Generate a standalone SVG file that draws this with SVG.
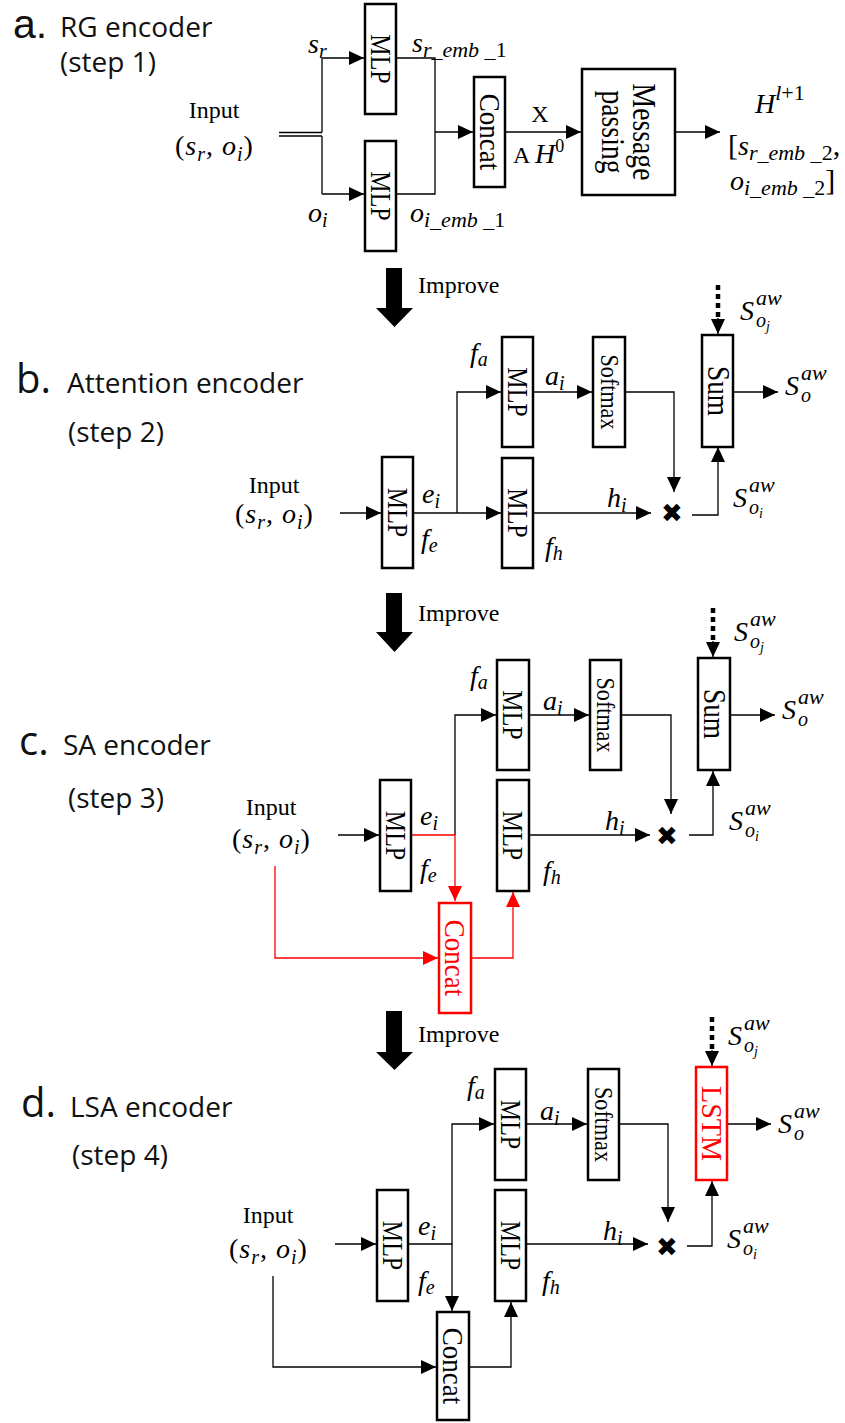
<svg xmlns="http://www.w3.org/2000/svg" width="845" height="1423" viewBox="0 0 845 1423">
<style>
.v{font-family:"Liberation Serif",serif;font-style:italic;font-size:28px;fill:#000}
.u{font-style:normal}
.sb{font-size:20px}
.lbl{font-family:"Liberation Serif",serif;font-size:24px;fill:#000}
.ttl{font-family:"Open Sans",sans-serif;font-size:28px;fill:#111}
.big{font-family:"Open Sans",sans-serif;font-size:40px;fill:#111}
.box{fill:#fff;stroke:#000;stroke-width:2.5}
.rbox{fill:#fff;stroke:#f00;stroke-width:2.5}
.ln{fill:none;stroke:#000;stroke-width:1.3}
.rln{fill:none;stroke:#f00;stroke-width:1.3}
.dot{fill:none;stroke:#000;stroke-width:4.5;stroke-dasharray:5 4}
.bt{font-family:"Liberation Serif",serif;text-anchor:middle;fill:#000}
.rt{fill:#f00}
.mul{font-family:"DejaVu Sans",sans-serif;font-size:26px;text-anchor:middle;fill:#000}
</style>
<defs>
<marker id="ah" markerUnits="userSpaceOnUse" markerWidth="15" markerHeight="14" refX="15" refY="7" orient="auto"><path d="M0,0L15,7L0,14z" fill="#000"/></marker>
<marker id="ahr" markerUnits="userSpaceOnUse" markerWidth="15" markerHeight="14" refX="15" refY="7" orient="auto"><path d="M0,0L15,7L0,14z" fill="#f00"/></marker>
</defs>
<rect width="845" height="1423" fill="#fff"/>

<!-- titles -->
<g id="titles">
<text x="13" y="38" font-family="Liberation Sans, sans-serif" font-size="41" fill="#111">a.</text>
<text class="ttl" x="60" y="37">RG encoder</text>
<text class="ttl" x="60" y="72">(step 1)</text>
<text class="big" x="16" y="393">b.</text>
<text class="ttl" x="67" y="393">Attention encoder</text>
<text class="ttl" x="68" y="442">(step 2)</text>
<text class="big" x="19" y="755">c.</text>
<text class="ttl" x="63" y="755">SA encoder</text>
<text class="ttl" x="68" y="808">(step 3)</text>
<text class="big" x="21" y="1117">d.</text>
<text class="ttl" x="70" y="1117" font-size="29">LSA encoder</text>
<text class="ttl" x="72" y="1165">(step 4)</text>
</g>

<!-- improve arrows -->
<g id="improve">
<polygon points="386,268 402,268 402,308 413,308 394.5,327 376,308 386,308" fill="#000"/>
<text class="lbl" x="418" y="293">Improve</text>
<polygon points="386,593 402,593 402,632 413,632 394.5,652 376,632 386,632" fill="#000"/>
<text class="lbl" x="418" y="621">Improve</text>
<polygon points="386,1011 402,1011 402,1052 413,1052 394.5,1070 376,1052 386,1052" fill="#000"/>
<text class="lbl" x="418" y="1042">Improve</text>
</g>

<!-- connectors -->
<g id="connectors">
<!-- a -->
<path class="ln" d="M279,132.5H322M279,136H322"/>
<path class="ln" d="M322,132.5V58"/>
<path class="ln" d="M322,136V194"/>
<path class="ln" d="M322,58H364" marker-end="url(#ah)"/>
<path class="ln" d="M322,194H364" marker-end="url(#ah)"/>
<path class="ln" d="M396,58H435V194H396"/>
<path class="ln" d="M435,132H473" marker-end="url(#ah)"/>
<path class="ln" d="M505,132H581" marker-end="url(#ah)"/>
<path class="ln" d="M675,132H720" marker-end="url(#ah)"/>
<!-- b -->
<path class="ln" d="M340,513H381" marker-end="url(#ah)"/>
<path class="ln" d="M413,513H501" marker-end="url(#ah)"/>
<path class="ln" d="M457,513V392H501" marker-end="url(#ah)"/>
<path class="ln" d="M533,392H592" marker-end="url(#ah)"/>
<path class="ln" d="M625,392H674V492" marker-end="url(#ah)"/>
<path class="ln" d="M533,513H651" marker-end="url(#ah)"/>
<path class="ln" d="M692,515H718V447" marker-end="url(#ah)"/>
<path class="dot" d="M718,285V318"/>
<path class="ln" d="M718,318V334" marker-end="url(#ah)"/>
<path class="ln" d="M733,392H778" marker-end="url(#ah)"/>
<!-- c -->
<path class="ln" d="M338,835H379" marker-end="url(#ah)"/>
<path class="ln" d="M455,835V715H496" marker-end="url(#ah)"/>
<path class="rln" d="M411,835H455V901" marker-end="url(#ahr)"/>
<path class="rln" d="M275,866V958H438" marker-end="url(#ahr)"/>
<path class="rln" d="M471,958H513V892" marker-end="url(#ahr)"/>
<path class="ln" d="M529,715H589" marker-end="url(#ah)"/>
<path class="ln" d="M621,715H671V814" marker-end="url(#ah)"/>
<path class="ln" d="M529,835H650" marker-end="url(#ah)"/>
<path class="ln" d="M689,835H713V771" marker-end="url(#ah)"/>
<path class="dot" d="M713,608V641"/>
<path class="ln" d="M713,641V657" marker-end="url(#ah)"/>
<path class="ln" d="M730,715H775" marker-end="url(#ah)"/>
<!-- d -->
<path class="ln" d="M335,1244H376" marker-end="url(#ah)"/>
<path class="ln" d="M408,1244H452V1311" marker-end="url(#ah)"/>
<path class="ln" d="M452,1244V1124H494" marker-end="url(#ah)"/>
<path class="ln" d="M273,1276V1367H436" marker-end="url(#ah)"/>
<path class="ln" d="M469,1367H511V1302" marker-end="url(#ah)"/>
<path class="ln" d="M526,1124H587" marker-end="url(#ah)"/>
<path class="ln" d="M619,1124H668V1222" marker-end="url(#ah)"/>
<path class="ln" d="M526,1244H648" marker-end="url(#ah)"/>
<path class="ln" d="M687,1246H712V1181" marker-end="url(#ah)"/>
<path class="dot" d="M712,1017V1050"/>
<path class="ln" d="M712,1050V1066" marker-end="url(#ah)"/>
<path class="ln" d="M727,1124H771" marker-end="url(#ah)"/>
</g>

<!-- ===== section a ===== -->
<g id="a-input">
<text class="lbl" x="214" y="118" text-anchor="middle">Input</text>
<text class="v" x="175" y="155" letter-spacing="1"><tspan class="u">(</tspan>s<tspan class="sb" dy="6">r</tspan><tspan class="u" dy="-6">, </tspan>o<tspan class="sb" dy="6">i</tspan><tspan class="u" dy="-6">)</tspan></text>
</g>
<g id="a-labels">
<text class="v" x="308" y="53">s<tspan class="sb" dy="5">r</tspan></text>
<text class="v" x="308" y="222">o<tspan class="sb" dy="5">i</tspan></text>
<text class="v" x="412" y="52">s<tspan font-size="22" dy="5">r_emb _<tspan class="u">1</tspan></tspan></text>
<text class="v" x="410" y="222">o<tspan font-size="22" dy="5">i_emb _<tspan class="u">1</tspan></tspan></text>
<text class="lbl" x="540" y="122" text-anchor="middle">X</text>
<text class="lbl" x="513" y="163">A <tspan class="v" font-size="26">H</tspan><tspan font-size="18" dy="-11">0</tspan></text>
</g>
<g id="a-mlp1"><rect class="box" x="365" y="4" width="31" height="110"/><text class="bt" font-size="30" transform="translate(370.5,59) rotate(90) scale(0.8,1)">MLP</text></g>
<g id="a-mlp2"><rect class="box" x="365" y="141" width="31" height="110"/><text class="bt" font-size="30" transform="translate(370.5,196) rotate(90) scale(0.8,1)">MLP</text></g>
<g id="a-concat"><rect class="box" x="474" y="77" width="31" height="110"/><text class="bt" font-size="30" transform="translate(480,132) rotate(90) scale(0.9,1)">Concat</text></g>
<g id="a-mp"><rect class="box" x="582" y="69" width="93" height="126"/>
<text class="bt" font-size="33" transform="translate(633,132) rotate(90) scale(0.84,1)">Message</text>
<text class="bt" font-size="33" transform="translate(602,132) rotate(90) scale(0.84,1)">passing</text></g>
<g id="a-output">
<text class="v" x="755" y="113" font-size="30">H<tspan font-size="22" dy="-13">l<tspan class="u">+1</tspan></tspan></text>
<text class="v" x="728" y="155"><tspan class="u" font-size="30">[</tspan>s<tspan font-size="22" dy="5">r_emb _<tspan class="u">2</tspan></tspan><tspan class="u" dy="-5" font-size="30">,</tspan></text>
<text class="v" x="730" y="190">o<tspan font-size="22" dy="5">i_emb _<tspan class="u">2</tspan></tspan><tspan class="u" dy="-5" font-size="30">]</tspan></text>
</g>

<!-- ===== section b ===== -->
<g id="b-input">
<text class="lbl" x="274" y="493" text-anchor="middle">Input</text>
<text class="v" x="235" y="523" letter-spacing="1"><tspan class="u">(</tspan>s<tspan class="sb" dy="6">r</tspan><tspan class="u" dy="-6">, </tspan>o<tspan class="sb" dy="6">i</tspan><tspan class="u" dy="-6">)</tspan></text>
</g>
<g id="b-mlpe"><rect class="box" x="382" y="457" width="31" height="111"/><text class="bt" font-size="30" transform="translate(387.5,512.5) rotate(90) scale(0.8,1)">MLP</text></g>
<g id="b-mlpa"><rect class="box" x="502" y="337" width="31" height="110"/><text class="bt" font-size="30" transform="translate(507.5,392) rotate(90) scale(0.8,1)">MLP</text></g>
<g id="b-mlph"><rect class="box" x="502" y="458" width="31" height="110"/><text class="bt" font-size="30" transform="translate(507.5,513) rotate(90) scale(0.8,1)">MLP</text></g>
<g id="b-softmax"><rect class="box" x="593" y="337" width="32" height="110"/><text class="bt" font-size="26" transform="translate(600.5,392) rotate(90) scale(0.85,1)">Softmax</text></g>
<g id="b-mul"><text class="mul" x="672" y="522">✖</text></g>
<g id="b-sum"><rect class="box" x="702" y="335" width="31" height="112"/><text class="bt" font-size="31" transform="translate(707.5,391) rotate(90) scale(0.88,1)">Sum</text></g>
<g id="b-labels">
<text class="v" x="470" y="362">f<tspan class="sb" dy="4">a</tspan></text>
<text class="v" x="422" y="503">e<tspan class="sb" dy="5">i</tspan></text>
<text class="v" x="421" y="548">f<tspan class="sb" dy="4">e</tspan></text>
<text class="v" x="545" y="385">a<tspan class="sb" dy="5">i</tspan></text>
<text class="v" x="607" y="507">h<tspan class="sb" dy="5">i</tspan></text>
<text class="v" x="545" y="556">f<tspan class="sb" dy="4">h</tspan></text>
<text class="v" font-size="27"><tspan x="740" y="320">S</tspan><tspan x="756" y="305" font-size="22">aw</tspan><tspan x="756" y="327" font-size="20">o</tspan><tspan font-size="14" dy="4">j</tspan></text>
<text class="v" font-size="27"><tspan x="785" y="395">S</tspan><tspan x="801" y="380" font-size="22">aw</tspan><tspan x="801" y="402" font-size="20">o</tspan></text>
<text class="v" font-size="27"><tspan x="733" y="507">S</tspan><tspan x="749" y="492" font-size="22">aw</tspan><tspan x="749" y="514" font-size="20">o</tspan><tspan font-size="14" dy="4">i</tspan></text>
</g>

<!-- ===== section c ===== -->
<g id="c-input">
<text class="lbl" x="271" y="815" text-anchor="middle">Input</text>
<text class="v" x="232" y="848" letter-spacing="1"><tspan class="u">(</tspan>s<tspan class="sb" dy="6">r</tspan><tspan class="u" dy="-6">, </tspan>o<tspan class="sb" dy="6">i</tspan><tspan class="u" dy="-6">)</tspan></text>
</g>
<g id="c-mlpe"><rect class="box" x="380" y="780" width="31" height="111"/><text class="bt" font-size="30" transform="translate(385.5,835.5) rotate(90) scale(0.8,1)">MLP</text></g>
<g id="c-mlpa"><rect class="box" x="497" y="660" width="32" height="110"/><text class="bt" font-size="30" transform="translate(503,715) rotate(90) scale(0.8,1)">MLP</text></g>
<g id="c-mlph"><rect class="box" x="497" y="780" width="32" height="111"/><text class="bt" font-size="30" transform="translate(503,835.5) rotate(90) scale(0.8,1)">MLP</text></g>
<g id="c-concat"><rect class="rbox" x="439" y="903" width="32" height="110"/><text class="bt rt" font-size="30" transform="translate(445,958) rotate(90) scale(0.9,1)">Concat</text></g>
<g id="c-softmax"><rect class="box" x="590" y="660" width="31" height="110"/><text class="bt" font-size="26" transform="translate(597,715) rotate(90) scale(0.85,1)">Softmax</text></g>
<g id="c-mul"><text class="mul" x="667" y="845">✖</text></g>
<g id="c-sum"><rect class="box" x="698" y="658" width="32" height="112"/><text class="bt" font-size="31" transform="translate(704,714) rotate(90) scale(0.88,1)">Sum</text></g>
<g id="c-labels">
<text class="v" x="470" y="685">f<tspan class="sb" dy="4">a</tspan></text>
<text class="v" x="420" y="825">e<tspan class="sb" dy="5">i</tspan></text>
<text class="v" x="420" y="878">f<tspan class="sb" dy="4">e</tspan></text>
<text class="v" x="543" y="710">a<tspan class="sb" dy="5">i</tspan></text>
<text class="v" x="605" y="830">h<tspan class="sb" dy="5">i</tspan></text>
<text class="v" x="543" y="880">f<tspan class="sb" dy="4">h</tspan></text>
<text class="v" font-size="27"><tspan x="734" y="641">S</tspan><tspan x="750" y="626" font-size="22">aw</tspan><tspan x="750" y="648" font-size="20">o</tspan><tspan font-size="14" dy="4">j</tspan></text>
<text class="v" font-size="27"><tspan x="782" y="719">S</tspan><tspan x="798" y="704" font-size="22">aw</tspan><tspan x="798" y="726" font-size="20">o</tspan></text>
<text class="v" font-size="27"><tspan x="729" y="830">S</tspan><tspan x="745" y="815" font-size="22">aw</tspan><tspan x="745" y="837" font-size="20">o</tspan><tspan font-size="14" dy="4">i</tspan></text>
</g>

<!-- ===== section d ===== -->
<g id="d-input">
<text class="lbl" x="268" y="1223" text-anchor="middle">Input</text>
<text class="v" x="229" y="1258" letter-spacing="1"><tspan class="u">(</tspan>s<tspan class="sb" dy="6">r</tspan><tspan class="u" dy="-6">, </tspan>o<tspan class="sb" dy="6">i</tspan><tspan class="u" dy="-6">)</tspan></text>
</g>
<g id="d-mlpe"><rect class="box" x="377" y="1190" width="31" height="111"/><text class="bt" font-size="30" transform="translate(382.5,1245.5) rotate(90) scale(0.8,1)">MLP</text></g>
<g id="d-mlpa"><rect class="box" x="495" y="1069" width="31" height="111"/><text class="bt" font-size="30" transform="translate(500.5,1124.5) rotate(90) scale(0.8,1)">MLP</text></g>
<g id="d-mlph"><rect class="box" x="495" y="1190" width="31" height="111"/><text class="bt" font-size="30" transform="translate(500.5,1245.5) rotate(90) scale(0.8,1)">MLP</text></g>
<g id="d-concat"><rect class="box" x="437" y="1312" width="32" height="108"/><text class="bt" font-size="30" transform="translate(443,1366) rotate(90) scale(0.9,1)">Concat</text></g>
<g id="d-softmax"><rect class="box" x="588" y="1069" width="31" height="111"/><text class="bt" font-size="26" transform="translate(595,1124.5) rotate(90) scale(0.85,1)">Softmax</text></g>
<g id="d-mul"><text class="mul" x="667" y="1256">✖</text></g>
<g id="d-lstm"><rect class="rbox" x="696" y="1067" width="31" height="113"/><text class="bt rt" font-size="30" transform="translate(701.5,1123.5) rotate(90) scale(0.94,1)">LSTM</text></g>
<g id="d-labels">
<text class="v" x="467" y="1095">f<tspan class="sb" dy="4">a</tspan></text>
<text class="v" x="418" y="1235">e<tspan class="sb" dy="5">i</tspan></text>
<text class="v" x="418" y="1290">f<tspan class="sb" dy="4">e</tspan></text>
<text class="v" x="540" y="1120">a<tspan class="sb" dy="5">i</tspan></text>
<text class="v" x="603" y="1240">h<tspan class="sb" dy="5">i</tspan></text>
<text class="v" x="542" y="1290">f<tspan class="sb" dy="4">h</tspan></text>
<text class="v" font-size="27"><tspan x="728" y="1045">S</tspan><tspan x="744" y="1030" font-size="22">aw</tspan><tspan x="744" y="1052" font-size="20">o</tspan><tspan font-size="14" dy="4">j</tspan></text>
<text class="v" font-size="27"><tspan x="778" y="1133">S</tspan><tspan x="794" y="1118" font-size="22">aw</tspan><tspan x="794" y="1140" font-size="20">o</tspan></text>
<text class="v" font-size="27"><tspan x="727" y="1248">S</tspan><tspan x="743" y="1233" font-size="22">aw</tspan><tspan x="743" y="1255" font-size="20">o</tspan><tspan font-size="14" dy="4">i</tspan></text>
</g>
</svg>
